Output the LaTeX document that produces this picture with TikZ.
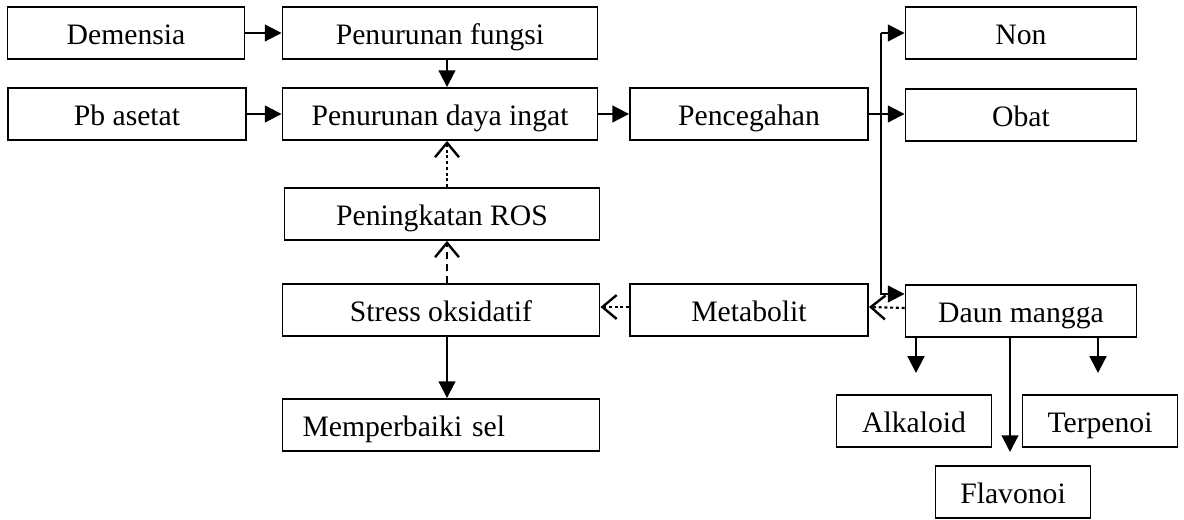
\documentclass[tikz,border=0pt]{standalone}
\usepackage{fontspec}
\setmainfont{Liberation Serif}
\usetikzlibrary{arrows.meta}
\newdimen\px
\px=0.0147cm
\tikzset{
  box/.style={draw, line width=0.8pt, inner sep=0pt, minimum height=52*\px, text height=11pt, text depth=1.5pt, font=\fontsize{12.4}{14}\selectfont},
  arr/.style={line width=0.9pt, -{Triangle[length=7pt,width=7pt]}},
  openarr/.style={line width=0.9pt, -{Straight Barb[length=6pt,width=10pt,line width=1pt]}},
  dotline/.style={dash pattern=on 1.2pt off 1.2pt},
  dashline/.style={dash pattern=on 3pt off 2pt}
}
\begin{document}
\begin{tikzpicture}[x=0.0147cm,y=-0.0147cm]
    \useasboundingbox (0,0) rectangle (1184,520);
    \node[box, minimum width=237*\px] (dem) at (126,33) {Demensia};
    \node[box, minimum width=238*\px] (pba) at (127,114) {Pb asetat};
    \node[box, minimum width=315*\px] (fun) at (440,33) {Penurunan fungsi};
    \node[box, minimum width=315*\px] (day) at (440,114) {Penurunan daya ingat};
    \node[box, minimum width=238*\px] (pen) at (749,114) {Pencegahan};
    \node[box, minimum width=315*\px] (ros) at (442,214) {Peningkatan ROS};
    \node[box, minimum width=317*\px] (str) at (441,310) {Stress oksidatif};
    \node[box, text width=277*\px, align=left, inner xsep=20*\px] (mem) at (441,425) {Memperbaiki sel};
    \node[box, minimum width=238*\px] (met) at (749,310) {Metabolit};
    \node[box, minimum width=231*\px] (non) at (1021,33) {Non};
    \node[box, minimum width=231*\px] (oba) at (1021,115) {Obat};
    \node[box, minimum width=231*\px] (dau) at (1021,311) {Daun mangga};
    \node[box, minimum width=155*\px] (alk) at (914,421) {Alkaloid};
    \node[box, minimum width=155*\px] (ter) at (1100,421) {Terpenoi};
    \node[box, minimum width=155*\px] (fla) at (1013,492) {Flavonoi};
    \coordinate (axis) at (447,0);
    \coordinate (jt) at (881,33);
    \coordinate (jb) at (881,294);
    \coordinate (alkEnd) at (916,373);
    \coordinate (terEnd) at (1098,373);
    \coordinate (flaEnd) at (1010,452);
    \draw[arr] (dem) -- (fun);
    \draw[arr] (pba) -- (day);
    \draw[arr] (fun.south -| axis) -- (day.north -| axis);
    \draw[arr] (day) -- (pen);
    \draw[arr] (pen.east) -- (oba.west |- pen.east);
    \draw[arr] (jt) -- (non.west |- jt);
    \draw[arr] (jt) -- (jb) -- (dau.west |- jb);
    \draw[openarr, dotline] ([yshift=3*\px]dau.west) -- ([yshift=3*\px]met.east);
    \draw[openarr, dotline] ([yshift=3*\px]met.west) -- ([yshift=3*\px]str.east);
    \draw[openarr, dashline] (str.north -| axis) -- (ros.south -| axis);
    \draw[openarr, dotline] (ros.north -| axis) -- (day.south -| axis);
    \draw[arr] (str.south -| axis) -- (mem.north -| axis);
    \draw[arr] (dau.south -| alkEnd) -- (alkEnd);
    \draw[arr] (dau.south -| terEnd) -- (terEnd);
    \draw[arr] (dau.south -| flaEnd) -- (flaEnd);
\end{tikzpicture}
\end{document}
